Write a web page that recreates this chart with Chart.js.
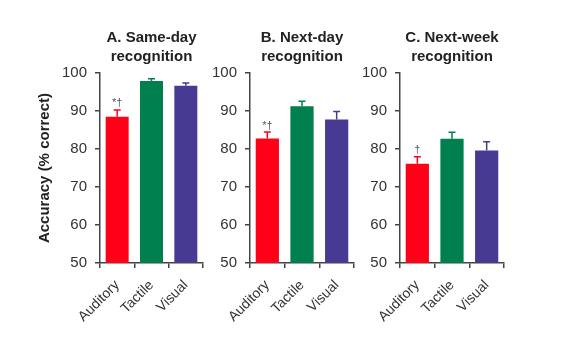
<!DOCTYPE html>
<html>
<head>
<meta charset="utf-8">
<script src="https://cdn.jsdelivr.net/npm/chart.js@4.4.1/dist/chart.umd.min.js"></script>
<style>
  html, body { margin: 0; padding: 0; background: #fff; }
  #wrap { position: relative; width: 570px; height: 345px; }
  #wrap canvas { position: absolute; top: 0; }
</style>
</head>
<body>
<div id="wrap">
  <canvas id="panel_a" width="210" height="345" style="left:0px"></canvas>
  <canvas id="panel_b" width="150" height="345" style="left:210px"></canvas>
  <canvas id="panel_c" width="150" height="345" style="left:360px"></canvas>
</div>
<script>
// Data
const categories = ['Auditory', 'Tactile', 'Visual']
const barColors = ['#ff0018', '#00804e', '#463a93']
const yTicks = [50, 60, 70, 80, 90, 100]

const sameDayMeans = [88.5, 97.9, 96.7]
const sameDayErrors = [1.8, 0.6, 0.7]
const sameDayMarks = ['*\u2020', '', '']

const nextDayMeans = [82.8, 91.3, 87.8]
const nextDayErrors = [1.7, 1.3, 2.1]
const nextDayMarks = ['*\u2020', '', '']

const nextWeekMeans = [76.1, 82.7, 79.6]
const nextWeekErrors = [1.9, 1.7, 2.3]
const nextWeekMarks = ['\u2020', '', '']

const fontFamily = '"Liberation Sans", Arial, Helvetica, sans-serif'
const axisColor = '#444'
const textColor = '#333'

// Upper error whiskers plus the significance marks above them
const errorBars = {
    id: 'errorBars',
    afterDatasetsDraw(chart, args, opts) {
        const { ctx, scales: { y } } = chart
        const meta = chart.getDatasetMeta(0)
        ctx.save()
        meta.data.forEach((bar, i) => {
            const top = y.getPixelForValue(opts.means[i] + opts.errors[i])
            ctx.strokeStyle = barColors[i]
            ctx.lineWidth = 1.5
            ctx.beginPath()
            ctx.moveTo(bar.x, bar.y)
            ctx.lineTo(bar.x, top)
            ctx.moveTo(bar.x - 3.5, top)
            ctx.lineTo(bar.x + 3.5, top)
            ctx.stroke()
            if (opts.marks[i]) {
                ctx.fillStyle = '#555'
                ctx.font = '11px ' + fontFamily
                ctx.textAlign = 'center'
                ctx.textBaseline = 'bottom'
                ctx.fillText(opts.marks[i], bar.x, top - 1)
            }
        })
        ctx.restore()
    }
}

function makePanel(id, titleLines, means, errors, marks, yWidth, rightPad, showYTitle) {
    const canvas = document.getElementById(id)
    return new Chart(canvas.getContext('2d'), {
        type: 'bar',
        data: {
            labels: categories,
            datasets: [{
                data: means,
                backgroundColor: barColors,
                borderWidth: 0,
                categoryPercentage: 1,
                barPercentage: 0.67
            }]
        },
        options: {
            responsive: false,
            animation: false,
            layout: { padding: { left: 0, right: rightPad, top: 0, bottom: 0 } },
            plugins: {
                legend: { display: false },
                tooltip: { enabled: false },
                title: {
                    display: true,
                    fullSize: false,
                    text: titleLines,
                    color: '#222',
                    font: { family: fontFamily, size: 15, weight: 'bold', lineHeight: 1.27 },
                    padding: { top: 28, bottom: 7 }
                },
                errorBars: { means: means, errors: errors, marks: marks }
            },
            scales: {
                x: {
                    afterFit: scale => { scale.height = 82 },
                    border: { color: axisColor, width: 1.5 },
                    grid: {
                        offset: true,
                        drawOnChartArea: false,
                        color: axisColor,
                        lineWidth: 1.5,
                        tickLength: 5
                    },
                    ticks: {
                        color: textColor,
                        minRotation: 45,
                        maxRotation: 45,
                        padding: 9,
                        font: { family: fontFamily, size: 14 }
                    }
                },
                y: {
                    min: 50,
                    max: 100,
                    afterFit: scale => { scale.width = yWidth },
                    afterBuildTicks: scale => { scale.ticks = yTicks.map(v => ({ value: v })) },
                    border: { color: axisColor, width: 1.5 },
                    grid: {
                        drawOnChartArea: false,
                        color: axisColor,
                        lineWidth: 1.5,
                        tickLength: 5
                    },
                    ticks: {
                        color: textColor,
                        padding: 8,
                        font: { family: fontFamily, size: 15 }
                    },
                    title: {
                        display: showYTitle,
                        text: 'Accuracy (% correct)',
                        color: '#222',
                        padding: { top: 36, bottom: 0 },
                        font: { family: fontFamily, size: 15, weight: 'bold' }
                    }
                }
            }
        },
        plugins: [errorBars]
    })
}

makePanel('panel_a', ['A. Same-day', 'recognition'], sameDayMeans, sameDayErrors, sameDayMarks, 100, 7, true)
makePanel('panel_b', ['B. Next-day', 'recognition'], nextDayMeans, nextDayErrors, nextDayMarks, 40, 6, false)
makePanel('panel_c', ['C. Next-week', 'recognition'], nextWeekMeans, nextWeekErrors, nextWeekMarks, 40, 6, false)
</script>
</body>
</html>
